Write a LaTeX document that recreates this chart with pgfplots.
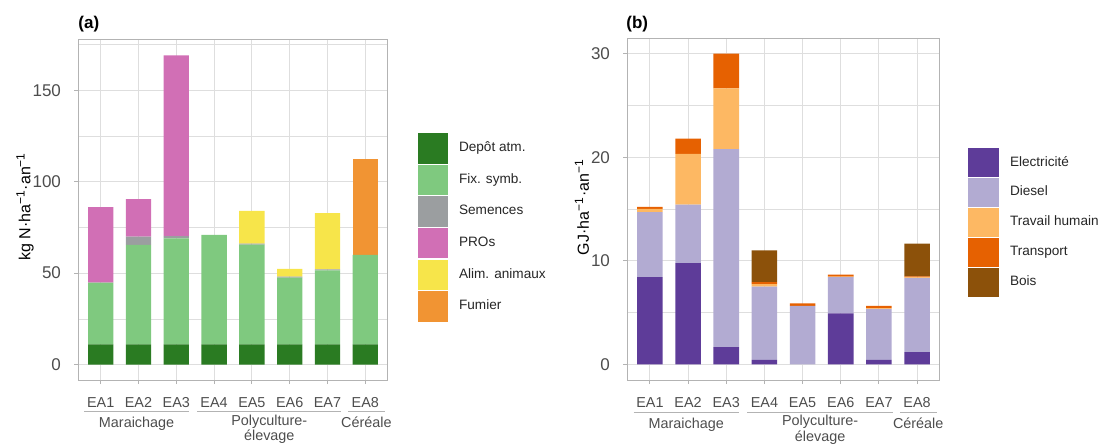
\documentclass[border=0pt]{standalone}
\usepackage{fontspec}
\setmainfont{Liberation Sans}
\usepackage{pgfplots}
\usepackage{pgfplotstable}
\pgfplotsset{compat=1.18}

\definecolor{depot}{HTML}{2A7B22}
\definecolor{fix}{HTML}{7FC97F}
\definecolor{sem}{HTML}{9B9EA0}
\definecolor{pro}{HTML}{D16FB5}
\definecolor{alim}{HTML}{F7E54A}
\definecolor{fum}{HTML}{F19433}
\definecolor{elec}{HTML}{5E3C99}
\definecolor{dies}{HTML}{B2ABD2}
\definecolor{trav}{HTML}{FDB863}
\definecolor{trans}{HTML}{E66101}
\definecolor{bois}{HTML}{8C510A}
\definecolor{gridc}{HTML}{DEDEDE}
\definecolor{frame}{HTML}{B3B3B3}
\definecolor{txt}{HTML}{4D4D4D}

\pgfplotstableread{
x depot fix  sem pro  alim fum
1 11    33.8 0   41.3 0    0
2 11    54.4 4.6 20.4 0    0
3 11    58.0 1.2 98.8 0    0
4 11    59.9 0   0    0    0
5 11    54.5 0.6 0    17.9 0
6 11    36.5 0.6 0    4.2  0
7 11    40.5 0.6 0    30.7 0
8 11    48.9 0   0    0    52.3
}\tabA

\pgfplotstableread{
x elec dies  trav trans bois
1 8.42 6.29  0.30 0.20  0
2 9.78 5.64  4.91 1.47  0
3 1.67 19.11 5.87 3.35  0
4 0.45 7.05  0.25 0.20  3.05
5 0    5.65  0    0.25  0
6 4.93 3.49  0.05 0.20  0
7 0.45 4.90  0.07 0.23  0
8 1.19 7.13  0.08 0.10  3.15
}\tabB

\pgfplotsset{
  panel/.style={
    scale only axis, clip=false,
    ybar stacked, bar width=0.67,
    xmin=0.4, xmax=8.6,
    xtick={1,2,3,4,5,6,7,8},
    xticklabels={EA1,EA2,EA3,EA4,EA5,EA6,EA7,EA8},
    grid=both,
    major grid style={draw=gridc, line width=0.5pt},
    minor grid style={draw=gridc, line width=0.3pt},
    tick align=outside, tick pos=left,
    major tick length=2pt, minor tick length=0pt,
    tick style={draw=frame, line width=0.5pt},
    axis line style={draw=frame, line width=0.5pt},
    x tick label style={font=\fontsize{7.2}{8}\selectfont, text=txt, yshift=-3.3pt},
    y tick label style={font=\fontsize{8.5}{10}\selectfont, text=txt, xshift=-3pt},
    /pgf/number format/assume math mode=true,
    legend cell align=left,
    legend style={draw=none, fill=none, inner sep=0pt, outer sep=0pt,
      font=\fontsize{6.8}{7.8}\selectfont, text=black!85,
      nodes={inner sep=0pt}, column sep=5.5pt, row sep=0.6pt},
  },
  keya/.style={fill=#1, draw=none, legend image code/.code={\fill[#1] (0pt,-7.6pt) rectangle (15pt,7.6pt);}},
  keyb/.style={fill=#1, draw=none, legend image code/.code={\fill[#1] (0pt,-7.2pt) rectangle (15.5pt,7.2pt);}},
}

\newcommand{\groups}{
  \draw[frame, line width=0.5pt] ({axis cs:0.57,0}|-{rel axis cs:0,-0.094}) -- ({axis cs:3.33,0}|-{rel axis cs:0,-0.094});
  \draw[frame, line width=0.5pt] ({axis cs:3.55,0}|-{rel axis cs:0,-0.094}) -- ({axis cs:7.37,0}|-{rel axis cs:0,-0.094});
  \draw[frame, line width=0.5pt] ({axis cs:7.55,0}|-{rel axis cs:0,-0.094}) -- ({axis cs:8.52,0}|-{rel axis cs:0,-0.094});
  \node[anchor=base, inner sep=0pt, font=\fontsize{7.2}{8}\selectfont, text=txt] at ({axis cs:1.95,0}|-{rel axis cs:0,-0.141}) {Maraichage};
  \node[anchor=base, inner sep=0pt, font=\fontsize{7.2}{8}\selectfont, text=txt] at ({axis cs:5.46,0}|-{rel axis cs:0,-0.134}) {Polyculture-};
  \node[anchor=base, inner sep=0pt, font=\fontsize{7.2}{8}\selectfont, text=txt] at ({axis cs:5.46,0}|-{rel axis cs:0,-0.179}) {élevage};
  \node[anchor=base, inner sep=0pt, font=\fontsize{7.2}{8}\selectfont, text=txt] at ({axis cs:8.03,0}|-{rel axis cs:0,-0.141}) {Céréale};
}

\begin{document}
\begin{tikzpicture}
\begin{axis}[panel,
  at={(39pt,-190pt)}, anchor=south west,
  width=155pt, height=170pt,
  ymin=-8.45, ymax=177.45,
  ytick={0,50,100,150}, minor ytick={25,75,125,175},
  legend style={at={(1.097,0.726)}, anchor=north west},
]
\addplot[keya=depot] table[x=x,y=depot]{\tabA};
\addplot[keya=fix] table[x=x,y=fix]{\tabA};
\addplot[keya=sem] table[x=x,y=sem]{\tabA};
\addplot[keya=pro] table[x=x,y=pro]{\tabA};
\addplot[keya=alim] table[x=x,y=alim]{\tabA};
\addplot[keya=fum] table[x=x,y=fum]{\tabA};
\legend{Depôt atm.,Fix. symb.,Semences,PROs,Alim. animaux,Fumier}
\groups
\end{axis}

\begin{axis}[panel,
  at={(313.5pt,-190pt)}, anchor=south west,
  width=156.5pt, height=171pt,
  ymin=-1.5, ymax=31.5,
  ytick={0,10,20,30}, minor ytick={5,15,25},
  legend style={at={(1.0895,0.678)}, anchor=north west},
]
\addplot[keyb=elec] table[x=x,y=elec]{\tabB};
\addplot[keyb=dies] table[x=x,y=dies]{\tabB};
\addplot[keyb=trav] table[x=x,y=trav]{\tabB};
\addplot[keyb=trans] table[x=x,y=trans]{\tabB};
\addplot[keyb=bois] table[x=x,y=bois]{\tabB};
\legend{Electricité,Diesel,Travail humain,Transport,Bois}
\groups
\end{axis}

\node[anchor=base west, inner sep=0pt, font=\fontsize{8.5}{10}\selectfont\bfseries] at (39pt,-14.5pt) {(a)};
\node[anchor=base west, inner sep=0pt, font=\fontsize{8.5}{10}\selectfont\bfseries] at (313pt,-14.5pt) {(b)};
\node[rotate=90, anchor=center, inner sep=0pt, font=\fontsize{8}{9}\selectfont] at (12.5pt,-103.3pt) {kg N·ha\textsuperscript{−1}·an\textsuperscript{−1}};
\node[rotate=90, anchor=center, inner sep=0pt, font=\fontsize{8}{9}\selectfont] at (291pt,-103.5pt) {GJ·ha\textsuperscript{−1}·an\textsuperscript{−1}};

\pgfresetboundingbox
\path[use as bounding box] (0pt,0pt) rectangle (550.5pt,-224pt);
\end{tikzpicture}
\end{document}
